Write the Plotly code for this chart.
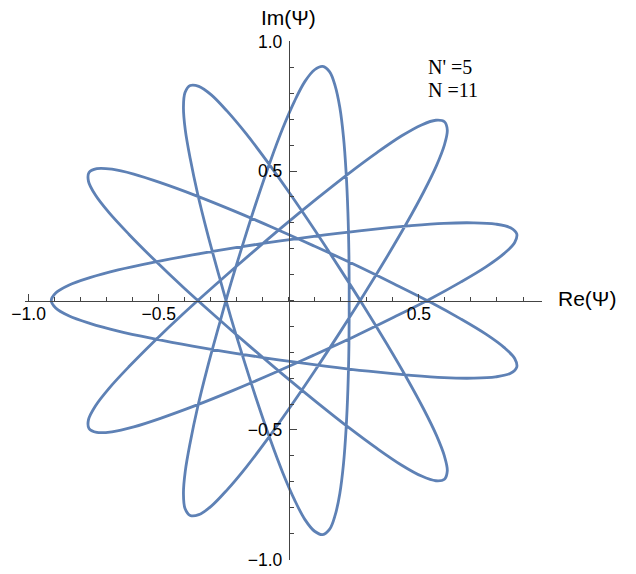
import plotly.graph_objects as go

# Re(Psi) and Im(Psi), one closed loop
re_psi = [
    -0.913, -0.896, -0.846, -0.765, -0.656, -0.522, -0.370, -0.205, -0.033, 0.139,
    0.306, 0.460, 0.596, 0.709, 0.795, 0.852, 0.876, 0.868, 0.828, 0.759,
    0.662, 0.543, 0.405, 0.254, 0.096, -0.062, -0.216, -0.360, -0.488, -0.596,
    -0.680, -0.738, -0.768, -0.770, -0.744, -0.691, -0.615, -0.519, -0.407, -0.283,
    -0.152, -0.020, 0.110, 0.231, 0.340, 0.434, 0.510, 0.565, 0.598, 0.609,
    0.598, 0.567, 0.518, 0.453, 0.375, 0.288, 0.195, 0.100, 0.006, -0.083,
    -0.165, -0.238, -0.298, -0.346, -0.379, -0.399, -0.405, -0.398, -0.379, -0.351,
    -0.314, -0.270, -0.223, -0.172, -0.121, -0.071, -0.023, 0.022, 0.062, 0.099,
    0.130, 0.157, 0.178, 0.196, 0.210, 0.220, 0.227, 0.231, 0.232,
    0.231, 0.227, 0.220, 0.210, 0.196, 0.178, 0.157, 0.130, 0.099, 0.062,
    0.022, -0.023, -0.071, -0.121, -0.172, -0.223, -0.270, -0.314, -0.351, -0.379,
    -0.398, -0.405, -0.399, -0.379, -0.346, -0.298, -0.238, -0.165, -0.083, 0.006,
    0.100, 0.195, 0.288, 0.375, 0.453, 0.518, 0.567, 0.598, 0.609, 0.598,
    0.565, 0.510, 0.434, 0.340, 0.231, 0.110, -0.020, -0.152, -0.283, -0.407,
    -0.519, -0.615, -0.691, -0.744, -0.770, -0.768, -0.738, -0.680, -0.596, -0.488,
    -0.360, -0.216, -0.062, 0.096, 0.254, 0.405, 0.543, 0.662, 0.759, 0.828,
    0.868, 0.876, 0.852, 0.795, 0.709, 0.596, 0.460, 0.306, 0.139, -0.033,
    -0.205, -0.370, -0.522, -0.656, -0.765, -0.846, -0.896, -0.913,
]
im_psi = [
    0.000, 0.029, 0.059, 0.088, 0.118, 0.147, 0.176, 0.204, 0.230, 0.253,
    0.273, 0.288, 0.298, 0.300, 0.295, 0.281, 0.257, 0.224, 0.182, 0.131,
    0.072, 0.006, -0.064, -0.138, -0.211, -0.282, -0.348, -0.406, -0.453, -0.488,
    -0.507, -0.509, -0.494, -0.460, -0.408, -0.339, -0.256, -0.159, -0.052, 0.060,
    0.175, 0.288, 0.395, 0.491, 0.572, 0.636, 0.678, 0.696, 0.690, 0.658,
    0.601, 0.520, 0.419, 0.299, 0.165, 0.022, -0.125, -0.271, -0.410, -0.536,
    -0.645, -0.732, -0.794, -0.827, -0.830, -0.803, -0.745, -0.659, -0.548, -0.414,
    -0.264, -0.102, 0.065, 0.232, 0.392, 0.538, 0.666, 0.770, 0.846, 0.891,
    0.904, 0.883, 0.829, 0.745, 0.632, 0.496, 0.342, 0.174, 0.000,
    -0.174, -0.342, -0.496, -0.632, -0.745, -0.829, -0.883, -0.904, -0.891, -0.846,
    -0.770, -0.666, -0.538, -0.392, -0.232, -0.065, 0.102, 0.264, 0.414, 0.548,
    0.659, 0.745, 0.803, 0.830, 0.827, 0.794, 0.732, 0.645, 0.536, 0.410,
    0.271, 0.125, -0.022, -0.165, -0.299, -0.419, -0.520, -0.601, -0.658, -0.690,
    -0.696, -0.678, -0.636, -0.572, -0.491, -0.395, -0.288, -0.175, -0.060, 0.052,
    0.159, 0.256, 0.339, 0.408, 0.460, 0.494, 0.509, 0.507, 0.488, 0.453,
    0.406, 0.348, 0.282, 0.211, 0.138, 0.064, -0.006, -0.072, -0.131, -0.182,
    -0.224, -0.257, -0.281, -0.295, -0.300, -0.298, -0.288, -0.273, -0.253, -0.230,
    -0.204, -0.176, -0.147, -0.118, -0.088, -0.059, -0.029, 0.000,
]

x_ticks = [-1.0, -0.5, 0.5]
x_tick_text = ["\u22121.0", "\u22120.5", "0.5"]
y_ticks = [-1.0, -0.5, 0.5, 1.0]
y_tick_text = ["\u22121.0", "\u22120.5", "0.5", "1.0"]

fig = go.Figure()
fig.add_trace(go.Scatter(x=re_psi, y=im_psi, mode="lines",
                         line=dict(color="#5E81B5", width=2.8, shape="spline"),
                         hoverinfo="skip", showlegend=False))

axis_col = "#444444"
tick_font = dict(family="Liberation Sans", size=17.5, color="black")
minor = dict(ticks="inside", ticklen=4, dtick=0.1, tick0=0, tickcolor=axis_col, showgrid=False)

# page body adds ~8px offset, margins compensate
fig.update_layout(
    width=636, height=574,
    paper_bgcolor="white", plot_bgcolor="white",
    margin=dict(l=17, r=102, t=33, b=22),
    xaxis=dict(range=[-1.014, 0.973], showgrid=False, zeroline=False,
               showline=True, linecolor=axis_col, linewidth=1,
               anchor="free", position=0.5, automargin=False,
               ticks="inside", ticklen=7, tickcolor=axis_col,
               tickvals=x_ticks, ticktext=x_tick_text, tickfont=tick_font,
               ticklabelstandoff=-3, minor=minor),
    yaxis=dict(range=[-1.002, 1.002], showgrid=False, zeroline=False,
               showline=True, linecolor=axis_col, linewidth=1,
               anchor="free", position=1.014 / 1.987, automargin=False,
               ticks="inside", ticklen=7, tickcolor=axis_col,
               tickvals=y_ticks, ticktext=y_tick_text, tickfont=tick_font,
               ticklabelstandoff=3, minor=minor),
    annotations=[
        dict(text="Re(\u03a8)", x=1.088, y=0.503, xref="paper", yref="paper",
             showarrow=False, xanchor="center", yanchor="middle",
             font=dict(family="Liberation Sans", size=21, color="black")),
        dict(text="Im(\u03a8)", x=0.509, y=1.046, xref="paper", yref="paper",
             showarrow=False, xanchor="center", yanchor="middle",
             font=dict(family="Liberation Sans", size=21, color="black")),
        dict(text="N' =5", x=0.7756, y=0.95, xref="paper", yref="paper",
             showarrow=False, xanchor="left", yanchor="middle",
             font=dict(family="Liberation Serif", size=20, color="black")),
        dict(text="N =11", x=0.7756, y=0.9056, xref="paper", yref="paper",
             showarrow=False, xanchor="left", yanchor="middle",
             font=dict(family="Liberation Serif", size=20, color="black")),
    ],
)
fig.write_html("out.html")
